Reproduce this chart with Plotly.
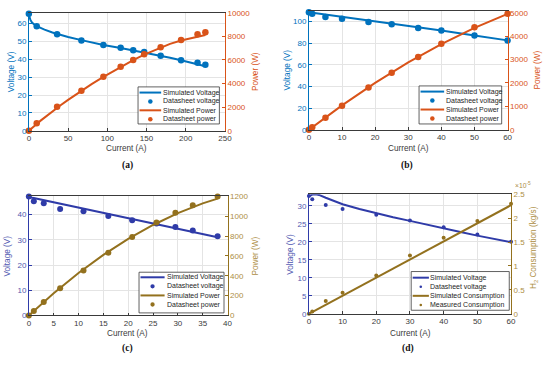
import plotly.graph_objects as go

# ---------------- data ----------------
# (a)
a_I = [0, 10, 36, 67, 95, 117, 133, 147, 168, 194, 215, 225]
a_V = [65.5, 58.5, 54.0, 50.5, 48.0, 46.5, 45.0, 44.0, 42.0, 39.5, 38.0, 37.0]
a_P = [0, 640, 2030, 3400, 4570, 5420, 5990, 6480, 7080, 7700, 8190, 8350]
a_simI = [0, 1, 2, 4, 6, 8, 10, 15, 20, 30, 40, 50, 67, 80, 95, 117, 133, 147, 168, 180, 194, 205, 215, 225]
a_simV = [65.0, 63.2, 62.0, 60.5, 59.6, 59.0, 58.5, 57.5, 56.6, 55.0, 53.7, 52.5, 50.7, 49.4, 48.0, 46.3,
          45.0, 43.9, 42.0, 40.9, 39.4, 38.2, 37.1, 36.1]
a_simP = [0, 63, 124, 242, 358, 472, 585, 862, 1132, 1650, 2148, 2625, 3397, 3952, 4560, 5417,
          5985, 6453, 7056, 7362, 7644, 7831, 7977, 8122]
# (b)
b_I = [0, 1, 5, 10, 18, 25, 33, 40, 50, 60]
b_V = [108.5, 107.0, 104.0, 102.5, 99.5, 97.3, 94.0, 91.5, 87.0, 82.5]
b_P = [0, 107, 520, 1030, 1810, 2440, 3110, 3670, 4380, 4960]
b_simI = [0, 10, 20, 30, 40, 50, 60]
b_simV = [108.5, 104.4, 100.2, 95.9, 91.5, 87.0, 82.5]
b_simP = [0, 1044, 2004, 2877, 3660, 4350, 4950]
# (c)
c_I = [0, 1, 3, 6.3, 11, 16, 20.8, 25.7, 29.5, 33, 38]
c_V = [47.2, 45.3, 44.5, 42.2, 41.3, 39.4, 37.8, 36.5, 35.1, 33.7, 31.4]
c_P = [0, 45, 135, 275, 452, 632, 790, 938, 1036, 1110, 1200]
c_simI = [0, 5, 10, 15, 20, 25, 30, 35, 38]
c_simV = [47.0, 44.9, 42.8, 40.7, 38.6, 36.5, 34.4, 32.3, 31.0]
c_simP = [0, 224, 428, 610, 772, 912, 1032, 1130, 1178]
# (d)
d_I = [0, 1, 5, 10, 20, 30, 40, 50, 60]
d_V = [32.7, 31.8, 30.2, 29.1, 27.5, 25.9, 24.0, 22.0, 20.0]
d_H = [0, 0.05e-5, 0.27e-5, 0.44e-5, 0.80e-5, 1.22e-5, 1.59e-5, 1.94e-5, 2.30e-5]
d_simI = [0, 1, 2, 3, 5, 10, 15, 20, 25, 30, 35, 40, 45, 50, 55, 60]
d_simV = [32.6, 33.1, 33.2, 33.0, 32.2, 30.4, 29.1, 27.9, 26.8, 25.8, 24.7, 23.7, 22.7, 21.7, 20.8, 19.9]
d_simHI = [0, 10, 20, 30, 40, 50, 60]
d_simH = [0, 0.378e-5, 0.757e-5, 1.135e-5, 1.513e-5, 1.892e-5, 2.27e-5]
d_Hticks = [0, 0.5e-5, 1e-5, 1.5e-5, 2e-5, 2.5e-5]
d_Hticktext = ["0", "0.5", "1", "1.5", "2", "2.5"]

legend_ab = ["Simulated Voltage", "Datasheet voltage", "Simulated Power", "Datasheet power"]
legend_d = ["Simulated Voltage", "Datasheet voltage", "Simulated Consumption", "Measured Consumption"]

# ---------------- style ----------------
W, H = 550, 365
FONT = "Liberation Sans, Arial, sans-serif"
BLUE, ORANGE = "#0072BD", "#D95319"
NAVY_L, NAVY_T = "#2F3BA8", "#5057B0"
GOLD_L, GOLD_T = "#93711E", "#AD8E45"
GRID = "#E4E4E4"
FS = 8.0
TFS = 8.2


def px(x):
    return x / W


def py(y):
    return 1 - y / H


panels = [
    dict(box=(27.3, 226.7, 9.0, 130.0), xr=[0, 250], xd=50, y1r=[0, 66], y1d=10, y2r=[0, 10000], y2d=2000,
         vl=BLUE, vt=BLUE, pl=ORANGE, pt=ORANGE, ms=6.5),
    dict(box=(312.0, 514.0, 7.5, 129.0), xr=[0, 60], xd=10, y1r=[0, 109.3], y1d=20, y2r=[0, 5060], y2d=1000,
         vl=BLUE, vt=BLUE, pl=ORANGE, pt=ORANGE, ms=6.5),
    dict(box=(27.3, 229.3, 197.3, 319.3), xr=[0, 40], xd=5, y1r=[0, 47.2], y1d=10, y2r=[0, 1200], y2d=200,
         vl=NAVY_L, vt=NAVY_T, pl=GOLD_L, pt=GOLD_T, ms=6),
    dict(box=(312.0, 517.5, 195.0, 317.7), xr=[0, 60], xd=10, y1r=[0, 33.2], y1d=5, y2r=[0, 2.5e-5], y2d=None,
         vl=NAVY_L, vt=NAVY_T, pl=GOLD_L, pt=GOLD_T, ms=4),
]

series = [
    (a_simI, a_simV, a_I, a_V, a_simI, a_simP, a_I, a_P),
    (b_simI, b_simV, b_I, b_V, b_simI, b_simP, b_I, b_P),
    (c_simI, c_simV, c_I, c_V, c_simI, c_simP, c_I, c_P),
    (d_simI, d_simV, d_I, d_V, d_simHI, d_simH, d_I, d_H),
]

fig = go.Figure()
layout = dict(width=W, height=H, margin=dict(l=0, r=0, t=0, b=0), paper_bgcolor="white",
              plot_bgcolor="white", showlegend=False, font=dict(family=FONT, size=FS, color="#262626"))

annotations = []
shapes = []

for k, (p, s) in enumerate(zip(panels, series)):
    xi = 2 * k + 1
    yl, yr = 2 * k + 1, 2 * k + 2
    xa, ya, yb = f"x{xi}", f"y{yl}", f"y{yr}"
    xk = "xaxis" if k == 0 else f"xaxis{xi}"
    ylk = "yaxis" if yl == 1 else f"yaxis{yl}"
    yrk = f"yaxis{yr}"
    l, r, t, b = p["box"]
    ax_common = dict(showline=True, linewidth=0.8, ticks="inside", ticklen=3, tickwidth=0.8,
                     zeroline=False, showgrid=True, gridcolor=GRID, gridwidth=0.8)
    layout[xk] = dict(ax_common, domain=[px(l), px(r)], range=p["xr"], dtick=p["xd"], tick0=0,
                      anchor=ya, linecolor="#3a3a3a", mirror=True, tickcolor="#3a3a3a",
                      tickfont=dict(family=FONT, size=FS, color="#3a3a3a"))
    layout[ylk] = dict(ax_common, domain=[py(b), py(t)], range=p["y1r"], dtick=p["y1d"], tick0=0,
                       anchor=xa, linecolor=p["vl"], tickcolor=p["vl"],
                       tickfont=dict(family=FONT, size=FS, color=p["vt"]))
    yr_ax = dict(ax_common, domain=[py(b), py(t)], range=p["y2r"], anchor=xa, overlaying=ya,
                 side="right", showgrid=False, linecolor=p["pl"], tickformat="d",
                 tickcolor=p["pl"], tickfont=dict(family=FONT, size=FS, color=p["pt"]))
    if p["y2d"] is None:
        yr_ax["tickvals"] = d_Hticks
        yr_ax["ticktext"] = d_Hticktext
        yr_ax.pop("tickformat")
    else:
        yr_ax["dtick"] = p["y2d"]
        yr_ax["tick0"] = 0
    layout[yrk] = yr_ax

    sI, sV, dI, dV, sI2, sP, dI2, dP = s
    fig.add_trace(go.Scatter(x=sI, y=sV, mode="lines", line=dict(color=p["vl"], width=2),
                             xaxis=xa, yaxis=ya, cliponaxis=False))
    fig.add_trace(go.Scatter(x=dI, y=dV, mode="markers", marker=dict(color=p["vl"], size=p["ms"]),
                             xaxis=xa, yaxis=ya, cliponaxis=False))
    fig.add_trace(go.Scatter(x=sI2, y=sP, mode="lines", line=dict(color=p["pl"], width=2),
                             xaxis=xa, yaxis=yb, cliponaxis=False))
    fig.add_trace(go.Scatter(x=dI2, y=dP, mode="markers", marker=dict(color=p["pl"], size=p["ms"]),
                             xaxis=xa, yaxis=yb, cliponaxis=False))

# axis titles (pixel placement)
titles = [
    ((127, 148), (9, 69), (258, 69, "Power (W)")),
    ((413, 148), (290, 68), (544, 68, "Power (W)")),
    ((128, 338), (6, 258), (258, 258, "Power (W)")),
    ((415, 338), (293, 257), (541, 250, "H<sub>2</sub> Consumption (kg/s)")),
]
for p, (xt, lt, rt) in zip(panels, titles):
    annotations.append(dict(x=px(xt[0]), y=py(xt[1]), xref="paper", yref="paper", text="Current (A)",
                            showarrow=False, font=dict(family=FONT, size=TFS, color="#3a3a3a"),
                            xanchor="center", yanchor="middle"))
    annotations.append(dict(x=px(lt[0]), y=py(lt[1]), xref="paper", yref="paper", text="Voltage (V)",
                            showarrow=False, textangle=-90, font=dict(family=FONT, size=TFS, color=p["vt"]),
                            xanchor="center", yanchor="middle"))
    annotations.append(dict(x=px(rt[0]), y=py(rt[1]), xref="paper", yref="paper", text=rt[2],
                            showarrow=False, textangle=-90, font=dict(family=FONT, size=TFS, color=p["pt"]),
                            xanchor="center", yanchor="middle"))

annotations.append(dict(x=px(519), y=py(186), xref="paper", yref="paper", text="×10<sup>-5</sup>",
                        showarrow=False, font=dict(family=FONT, size=6.8, color=GOLD_T),
                        xanchor="left", yanchor="middle"))

# captions
for txt, cx, cy in [("(a)", 128, 166), ("(b)", 412, 166), ("(c)", 128, 353), ("(d)", 413, 353)]:
    annotations.append(dict(x=px(cx), y=py(cy), xref="paper", yref="paper", text=f"<b>{txt}</b>",
                            showarrow=False, font=dict(family="Liberation Serif, Times New Roman, serif",
                                                       size=9.5, color="#111"),
                            xanchor="center", yanchor="middle"))

# legends (box px: x0, y0, x1, y1), swatch end offset, text offset, first row offset, row step
legends = [
    ((138.3, 85.0, 221.0, 123.0), 23.5, 25.0, 5.8, 9.1, legend_ab, 2.3),
    ((424.0, 84.0, 508.0, 123.0), 25.5, 27.2, 5.8, 9.2, legend_ab, 2.3),
    ((139.3, 275.0, 225.7, 316.7), 26.0, 28.0, 5.2, 9.3, legend_ab, 2.2),
    ((416.0, 274.3, 515.7, 314.0), 18.0, 19.3, 6.3, 9.3, legend_d, 1.3),
]
for p, (bx, sw, tx, r0, rs, labels, mr) in zip(panels, legends):
    x0, y0, x1, y1 = bx
    shapes.append(dict(type="rect", xref="paper", yref="paper", x0=px(x0), x1=px(x1), y0=py(y1), y1=py(y0),
                       line=dict(color="#3a3a3a", width=0.8), fillcolor="white", layer="above"))
    cols = [p["vl"], p["vl"], p["pl"], p["pl"]]
    for j, (lab, c) in enumerate(zip(labels, cols)):
        ry = y0 + r0 + rs * j
        if j % 2 == 0:
            shapes.append(dict(type="line", xref="paper", yref="paper", x0=px(x0 + 1.5), x1=px(x0 + sw),
                               y0=py(ry), y1=py(ry), line=dict(color=c, width=2), layer="above"))
        else:
            cx = x0 + 1.5 + (sw - 1.5) / 2
            shapes.append(dict(type="circle", xref="paper", yref="paper", x0=px(cx - mr), x1=px(cx + mr),
                               y0=py(ry + mr), y1=py(ry - mr), line=dict(color=c, width=0),
                               fillcolor=c, layer="above"))
        annotations.append(dict(x=px(x0 + tx), y=py(ry), xref="paper", yref="paper", text=lab,
                                showarrow=False, font=dict(family=FONT, size=7.0, color="#262626"),
                                xanchor="left", yanchor="middle", xshift=-2))

layout["annotations"] = annotations
layout["shapes"] = shapes
fig.update_layout(**layout)
fig.write_html("out.html", config={"displayModeBar": False},
               post_script="document.body.style.margin='0';document.body.style.padding='0';")
